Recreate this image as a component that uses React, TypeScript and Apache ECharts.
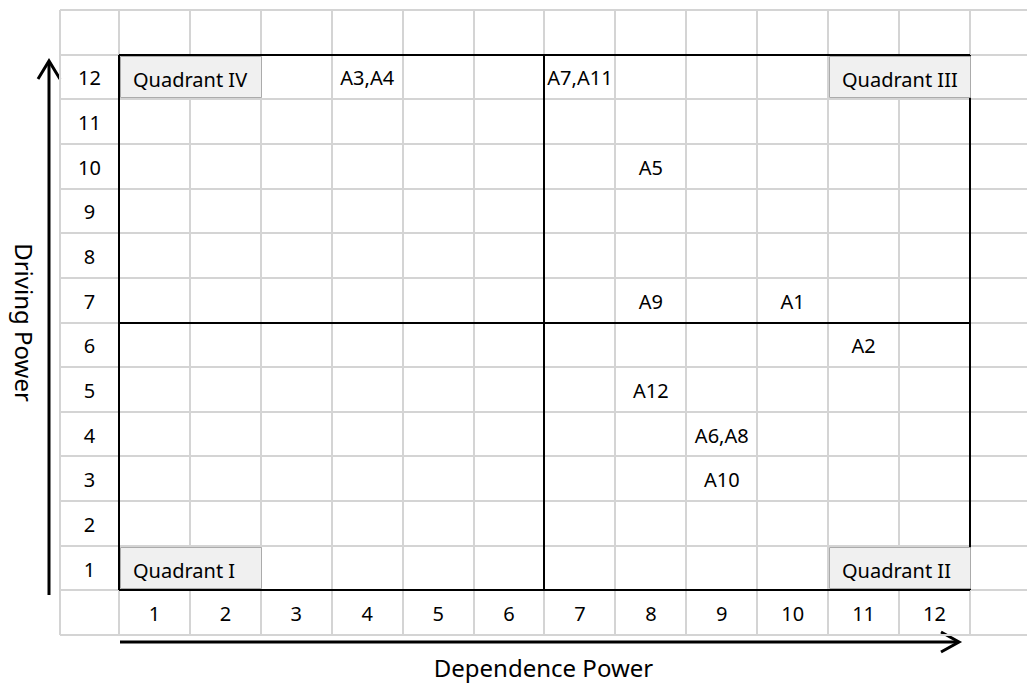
import React, { useEffect, useRef } from "react";
import * as echarts from "echarts";

// ---- data ----
const xTickLabels = ["1", "2", "3", "4", "5", "6", "7", "8", "9", "10", "11", "12"];
const yTickLabels = ["1", "2", "3", "4", "5", "6", "7", "8", "9", "10", "11", "12"];

const factorLabels = ["A3,A4", "A7,A11", "A5", "A9", "A1", "A2", "A12", "A6,A8", "A10"];
const dependencePower = [4, 7, 8, 8, 10, 11, 8, 9, 9];
const drivingPower = [12, 12, 10, 7, 7, 6, 5, 4, 3];

const quadrantNames = ["Quadrant I", "Quadrant II", "Quadrant III", "Quadrant IV"];
const quadrantStartCol = [1, 11, 11, 1];
const quadrantRow = [1, 1, 12, 12];

const quadrantSplitX = 6.5;
const quadrantSplitY = 6.5;
const scaleMin = 0.5;
const scaleMax = 12.5;

// ---- layout (axis extents in data units) ----
const X_MIN = -0.332;
const X_MAX = 13.304;
const Y_MIN = -0.5;
const Y_MAX = 13.5;
const LABEL_COL_X = 0.084;
const FONT = "Noto Sans, DejaVu Sans, sans-serif";

export default function App() {
  const ref = useRef<HTMLDivElement>(null);

  useEffect(() => {
    if (!ref.current) return;
    const chart = echarts.init(ref.current, null, { renderer: "svg" });

    // grid lines of the table
    const gridLines: number[][] = [];
    const vEdges = [X_MIN];
    for (let i = 0; i <= xTickLabels.length; i++) vEdges.push(scaleMin + i);
    vEdges.forEach((x) => gridLines.push([x, Y_MIN, x, Y_MAX]));
    for (let j = 0; j <= yTickLabels.length + 2; j++) {
      const y = Y_MIN + j;
      gridLines.push([X_MIN, y, X_MAX, y]);
    }

    // quadrant frame
    const frameLines: number[][] = [
      [scaleMin, scaleMin, scaleMax, scaleMin],
      [scaleMin, scaleMax, scaleMax, scaleMax],
      [scaleMin, scaleMin, scaleMin, scaleMax],
      [scaleMax, scaleMin, scaleMax, scaleMax],
      [quadrantSplitX, scaleMin, quadrantSplitX, scaleMax],
      [scaleMin, quadrantSplitY, scaleMax, quadrantSplitY],
    ];

    const lineRender = (color: string, width: number) => (params: any, api: any) => {
      const p1 = api.coord([api.value(0), api.value(1)]);
      const p2 = api.coord([api.value(2), api.value(3)]);
      return {
        type: "line",
        shape: { x1: Math.round(p1[0]), y1: Math.round(p1[1]), x2: Math.round(p2[0]), y2: Math.round(p2[1]) },
        style: { stroke: color, lineWidth: width },
      };
    };

    const tickData: any[] = [];
    xTickLabels.forEach((t, i) => tickData.push([i + 1, 0, t]));
    yTickLabels.forEach((t, i) => tickData.push([LABEL_COL_X, i + 1, t]));

    const factorData = factorLabels.map((l, i) => [dependencePower[i], drivingPower[i], l]);
    const quadData = quadrantNames.map((n, i) => [quadrantStartCol[i], quadrantRow[i], n]);

    const textRender = (params: any, api: any) => {
      const p = api.coord([api.value(0), api.value(1)]);
      return {
        type: "text",
        x: p[0],
        y: p[1] + 1,
        style: {
          text: String(api.value(2)),
          fontSize: 20,
          fontFamily: FONT,
          fill: "#000",
          align: "center",
          verticalAlign: "middle",
        },
      };
    };

    const option: any = {
      animation: false,
      grid: { left: 60, top: 10, right: 0, bottom: 48, containLabel: false },
      xAxis: {
        type: "value",
        min: X_MIN,
        max: X_MAX,
        axisLine: { show: false },
        axisTick: { show: false },
        axisLabel: { show: false },
        splitLine: { show: false },
        name: "Dependence Power",
        nameLocation: "middle",
        nameGap: 20,
        nameTextStyle: { fontSize: 24, fontFamily: FONT, color: "#000" },
      },
      yAxis: {
        type: "value",
        min: Y_MIN,
        max: Y_MAX,
        axisLine: { show: false },
        axisTick: { show: false },
        axisLabel: { show: false },
        splitLine: { show: false },
        name: "Driving Power",
        nameLocation: "middle",
        nameRotate: -90,
        nameGap: 24,
        nameTextStyle: { fontSize: 24, fontFamily: FONT, color: "#000" },
      },
      series: [
        {
          type: "custom",
          z: 1,
          silent: true,
          clip: false,
          data: gridLines,
          renderItem: lineRender("#d4d4d4", 2),
        },
        {
          type: "custom",
          z: 2,
          silent: true,
          clip: false,
          data: frameLines,
          renderItem: lineRender("#000", 2),
        },
        {
          type: "custom",
          z: 3,
          silent: true,
          clip: false,
          data: quadData,
          renderItem: (params: any, api: any) => {
            const col = api.value(0);
            const row = api.value(1);
            const tl = api.coord([col - 0.5, row + 0.5]);
            const br = api.coord([col + 1.5, row - 0.5]);
            const x = Math.round(tl[0]) + 1;
            const y = Math.round(tl[1]) + 1;
            const w = Math.round(br[0] - tl[0]);
            const h = Math.round(br[1] - tl[1]) - 3;
            return {
              type: "group",
              children: [
                {
                  type: "rect",
                  shape: { x: x + 0.5, y: y + 0.5, width: w - 1, height: h - 1 },
                  style: { fill: "#f0f0f0", stroke: "#ababab", lineWidth: 1 },
                },
                {
                  type: "text",
                  x: x + 13,
                  y: y + h / 2 + 2,
                  style: {
                    text: String(api.value(2)),
                    fontSize: 20,
                    fontFamily: FONT,
                    fill: "#000",
                    align: "left",
                    verticalAlign: "middle",
                  },
                },
              ],
            };
          },
        },
        {
          type: "custom",
          z: 4,
          silent: true,
          clip: false,
          data: tickData,
          renderItem: textRender,
        },
        {
          type: "custom",
          z: 4,
          silent: true,
          clip: false,
          data: factorData,
          renderItem: textRender,
        },
      ],
      graphic: [
        {
          type: "line",
          shape: { x1: 49, y1: 595, x2: 49, y2: 62 },
          style: { stroke: "#000", lineWidth: 3 },
        },
        {
          type: "polyline",
          shape: { points: [[38, 79], [49, 61], [60, 79]] },
          style: { stroke: "#000", lineWidth: 3, fill: null },
        },
        {
          type: "line",
          shape: { x1: 120, y1: 642, x2: 958, y2: 642 },
          style: { stroke: "#000", lineWidth: 3 },
        },
        {
          type: "polyline",
          shape: { points: [[941, 632], [959, 642], [941, 652]] },
          style: { stroke: "#000", lineWidth: 3, fill: null },
        },
      ],
    };

    chart.setOption(option);
    return () => chart.dispose();
  }, []);

  return (
    <div
      ref={ref}
      style={{ position: "fixed", left: 0, top: 0, width: 1027, height: 684, background: "#fff" }}
    />
  );
}
